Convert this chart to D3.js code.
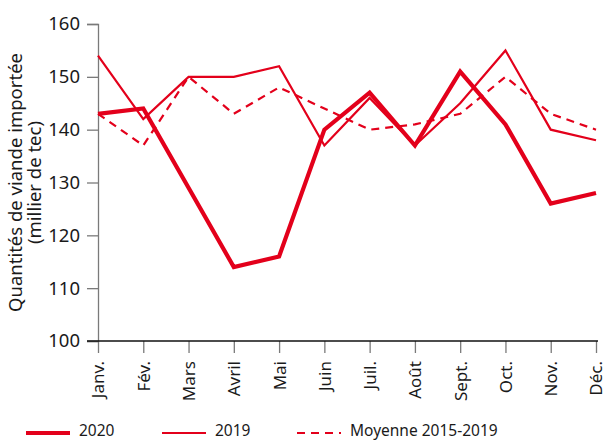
<!DOCTYPE html>
<html>
<head>
<meta charset="utf-8">
<script src="https://cdn.jsdelivr.net/npm/d3@7"></script>
<style>
  body { margin: 0; background: #fff; }
  text { font-family: "Noto Sans", "DejaVu Sans", sans-serif; fill: #1a1a1a; }
</style>
</head>
<body>
<svg id="chart" width="614" height="440"></svg>
<script>
// Data
var MONTHS = ["Janv.", "Fév.", "Mars", "Avril", "Mai", "Juin", "Juil.", "Août", "Sept.", "Oct.", "Nov.", "Déc."];
var VALUES_2020 = [143, 144, 129, 114, 116, 140, 147, 137, 151, 141, 126, 128];
var VALUES_2019 = [154, 142, 150, 150, 152, 137, 146, 137, 145, 155, 140, 138];
var VALUES_AVG = [143, 137, 150, 143, 148, 144, 140, 141, 143, 150, 143, 140];
var Y_TICKS = [100, 110, 120, 130, 140, 150, 160];

var RED = "#e3001b";
var LEFT = 98, RIGHT = 596, TOP = 24, BOTTOM = 341;

var svg = d3.select("#chart");

var xScale = d3.scalePoint().domain(MONTHS).range([LEFT, RIGHT]);
var yScale = d3.scaleLinear().domain([100, 160]).range([BOTTOM, TOP]);

// Y axis
var yAxis = svg.append("g")
    .attr("transform", "translate(" + LEFT + ",0)")
    .call(d3.axisLeft(yScale).tickValues(Y_TICKS).tickSize(11).tickPadding(7));
yAxis.select(".domain").attr("stroke", "#7a7a7a").attr("stroke-width", 1.3);
yAxis.selectAll(".tick line").attr("stroke", "#7a7a7a").attr("stroke-width", 1.3);
yAxis.selectAll(".tick text")
    .style("font-size", "18.5px")
    .attr("fill", "#1a1a1a");

// X axis
var xAxis = svg.append("g")
    .attr("transform", "translate(0," + BOTTOM + ")")
    .call(d3.axisBottom(xScale).tickSize(12).tickPadding(0));
xAxis.select(".domain").remove();
xAxis.selectAll(".tick line").attr("stroke", "#7a7a7a").attr("stroke-width", 1.3);
xAxis.selectAll(".tick text")
    .style("font-size", "17px")
    .attr("fill", "#1a1a1a")
    .attr("text-anchor", "end")
    .attr("dy", "0.35em")
    .attr("transform", "translate(0,20) rotate(-90)")
    .attr("x", 0).attr("y", 0);

// baseline
svg.append("line")
    .attr("x1", LEFT - 11).attr("x2", RIGHT + 2)
    .attr("y1", BOTTOM).attr("y2", BOTTOM)
    .attr("stroke", "#111").attr("stroke-width", 1.3);

// Y axis title
var title = svg.append("text")
    .attr("transform", "translate(22," + ((TOP + BOTTOM) / 2) + ") rotate(-90)")
    .attr("text-anchor", "middle")
    .style("font-size", "18.5px");
title.append("tspan").attr("x", 0).attr("dy", 0).text("Quantités de  viande importée");
title.append("tspan").attr("x", 0).attr("dy", "19px").text("(millier de tec)");

// Lines
var lineGen = d3.line()
    .x(function (d, i) { return xScale(MONTHS[i]); })
    .y(function (d) { return yScale(d); });

svg.append("path")
    .attr("d", lineGen(VALUES_AVG))
    .attr("fill", "none").attr("stroke", RED)
    .attr("stroke-width", 2.2).attr("stroke-dasharray", "8,6");

svg.append("path")
    .attr("d", lineGen(VALUES_2019))
    .attr("fill", "none").attr("stroke", RED)
    .attr("stroke-width", 2.2);

svg.append("path")
    .attr("d", lineGen(VALUES_2020))
    .attr("fill", "none").attr("stroke", RED)
    .attr("stroke-width", 4.2);

// Legend
var LEGEND = [
    { label: "2020", x: 26, width: 4.2, dash: null },
    { label: "2019", x: 162, width: 2.2, dash: null },
    { label: "Moyenne 2015-2019", x: 297, width: 2.2, dash: "8,6" }
];
var legendY = 433;
LEGEND.forEach(function (l) {
    svg.append("line")
        .attr("x1", l.x).attr("x2", l.x + 44)
        .attr("y1", legendY).attr("y2", legendY)
        .attr("stroke", RED).attr("stroke-width", l.width)
        .attr("stroke-dasharray", l.dash);
    svg.append("text")
        .attr("x", l.x + 53).attr("y", 436)
        .style("font-size", "15.5px")
        .text(l.label);
});
</script>
</body>
</html>
